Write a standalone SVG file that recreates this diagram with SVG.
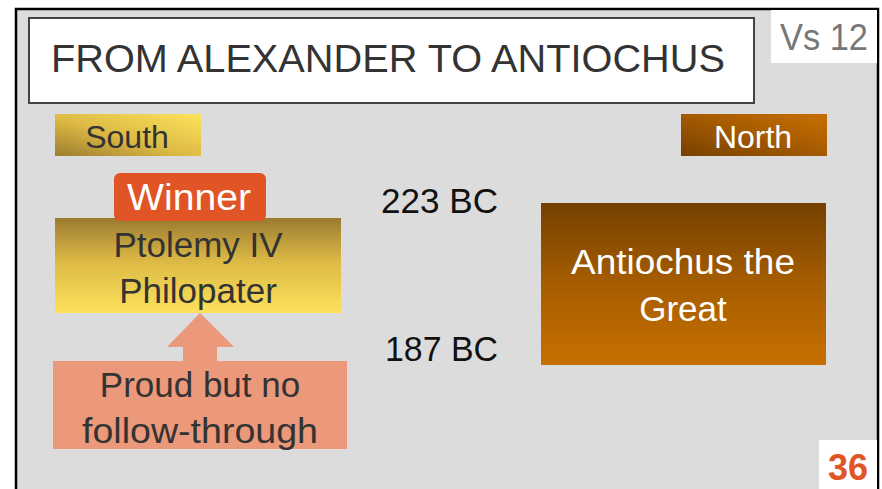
<svg xmlns="http://www.w3.org/2000/svg" width="882" height="489" viewBox="0 0 882 489">
  <style>
    text { font-family: "Liberation Sans", "Open Sans", sans-serif; }
    .dark { fill: #333333; }
    .white { fill: #ffffff; }
    .c { text-anchor: middle; }
  </style>
  <defs>
    <linearGradient id="gSouth" x1="0" y1="1" x2="1" y2="0">
      <stop offset="0" stop-color="#9c7c30"/>
      <stop offset="0.45" stop-color="#dcb944"/>
      <stop offset="1" stop-color="#fde35c"/>
    </linearGradient>
    <linearGradient id="gPtol" x1="0" y1="0" x2="0" y2="1">
      <stop offset="0" stop-color="#9b7a30"/>
      <stop offset="0.45" stop-color="#dcb945"/>
      <stop offset="1" stop-color="#fde15b"/>
    </linearGradient>
    <linearGradient id="gNorth" x1="0" y1="1" x2="1" y2="0">
      <stop offset="0" stop-color="#774000"/>
      <stop offset="0.5" stop-color="#a35a00"/>
      <stop offset="1" stop-color="#c87000"/>
    </linearGradient>
    <linearGradient id="gAnt" x1="0" y1="0" x2="0" y2="1">
      <stop offset="0" stop-color="#744000"/>
      <stop offset="0.5" stop-color="#a65d00"/>
      <stop offset="1" stop-color="#c77000"/>
    </linearGradient>
  </defs>

  <rect x="0" y="0" width="882" height="489" fill="#ffffff"/>
  <g id="frame">
    <rect x="16" y="9" width="862" height="490" fill="#dcdcdc" stroke="#000000" stroke-width="2.5"/>
  </g>

  <g id="title">
    <rect x="29" y="18" width="725" height="85" fill="#ffffff" stroke="#444444" stroke-width="2"/>
    <text x="51" y="72" font-size="38" class="dark" textLength="674" lengthAdjust="spacingAndGlyphs">FROM ALEXANDER TO ANTIOCHUS</text>
  </g>

  <g id="verse">
    <rect x="771" y="10" width="106" height="53" fill="#ffffff"/>
    <text x="780" y="50" font-size="36" fill="#777777" textLength="88" lengthAdjust="spacingAndGlyphs">Vs 12</text>
  </g>

  <g id="south">
    <rect x="55" y="114" width="146" height="42" fill="url(#gSouth)"/>
    <text x="127" y="148" font-size="32" class="dark c">South</text>
  </g>

  <g id="north">
    <rect x="681" y="114" width="146" height="42" fill="url(#gNorth)"/>
    <text x="753" y="148" font-size="32" class="white c">North</text>
  </g>

  <g id="ptolemy">
    <rect x="55" y="218" width="286" height="95" fill="url(#gPtol)"/>
    <text x="198" y="257" font-size="35" class="dark c">Ptolemy IV</text>
    <text x="198" y="303" font-size="35" class="dark c">Philopater</text>
  </g>

  <g id="winner">
    <rect x="114" y="173" width="152" height="48" rx="6" ry="6" fill="#e05426"/>
    <text x="189" y="210" font-size="36" class="white c" textLength="124" lengthAdjust="spacingAndGlyphs">Winner</text>
  </g>

  <g id="date223">
    <text x="381" y="213" font-size="35" fill="#111111" textLength="117" lengthAdjust="spacingAndGlyphs">223 BC</text>
  </g>

  <g id="date187">
    <text x="385" y="361" font-size="35" fill="#111111" textLength="113" lengthAdjust="spacingAndGlyphs">187 BC</text>
  </g>

  <g id="antiochus">
    <rect x="541" y="203" width="285" height="162" fill="url(#gAnt)"/>
    <text x="683" y="274" font-size="35" class="white c" textLength="224" lengthAdjust="spacingAndGlyphs">Antiochus the</text>
    <text x="683" y="321" font-size="35" class="white c">Great</text>
  </g>

  <g id="connectors">
    <polygon points="200,313 234,347 217,347 217,362 183,362 183,347 167,347" fill="#eb987b"/>
  </g>

  <g id="proud">
    <rect x="53" y="361" width="294" height="88" fill="#eb987b"/>
    <text x="200" y="397" font-size="35" class="dark c">Proud but no</text>
    <text x="200" y="443" font-size="35" class="dark c" textLength="236" lengthAdjust="spacingAndGlyphs">follow-through</text>
  </g>

  <g id="page">
    <rect x="819" y="440" width="58" height="49" fill="#ffffff"/>
    <text x="848" y="480" font-size="36" font-weight="bold" fill="#e05426" class="c">36</text>
  </g>
</svg>
